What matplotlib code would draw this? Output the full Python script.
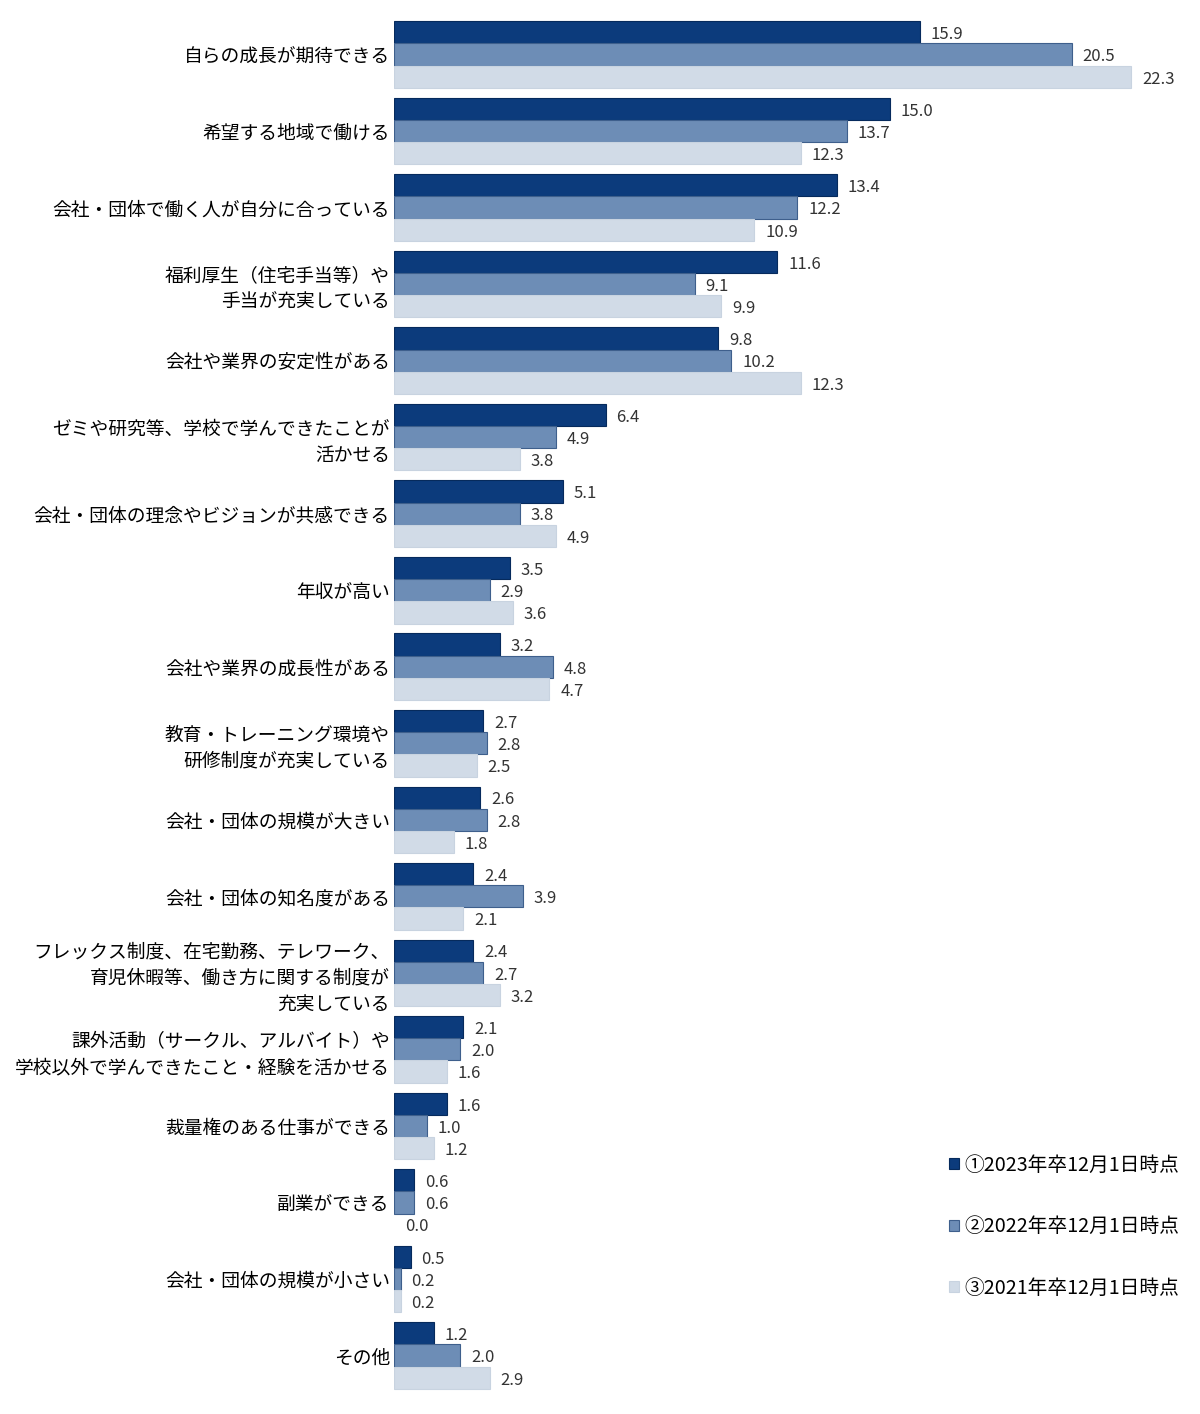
import matplotlib
matplotlib.use("Agg")
import matplotlib.pyplot as plt
import numpy as np
from matplotlib.patches import Patch

plt.rcParams["font.family"] = ["Noto Sans CJK JP", "DejaVu Sans"]

categories = [
    "自らの成長が期待できる",
    "希望する地域で働ける",
    "会社・団体で働く人が自分に合っている",
    "福利厚生（住宅手当等）や\n手当が充実している",
    "会社や業界の安定性がある",
    "ゼミや研究等、学校で学んできたことが\n活かせる",
    "会社・団体の理念やビジョンが共感できる",
    "年収が高い",
    "会社や業界の成長性がある",
    "教育・トレーニング環境や\n研修制度が充実している",
    "会社・団体の規模が大きい",
    "会社・団体の知名度がある",
    "フレックス制度、在宅勤務、テレワーク、\n育児休暇等、働き方に関する制度が\n充実している",
    "課外活動（サークル、アルバイト）や\n学校以外で学んできたこと・経験を活かせる",
    "裁量権のある仕事ができる",
    "副業ができる",
    "会社・団体の規模が小さい",
    "その他",
]
series_labels = ["①2023年卒12月1日時点", "②2022年卒12月1日時点", "③2021年卒12月1日時点"]
v2023 = [15.9, 15.0, 13.4, 11.6, 9.8, 6.4, 5.1, 3.5, 3.2, 2.7, 2.6, 2.4, 2.4, 2.1, 1.6, 0.6, 0.5, 1.2]
v2022 = [20.5, 13.7, 12.2, 9.1, 10.2, 4.9, 3.8, 2.9, 4.8, 2.8, 2.8, 3.9, 2.7, 2.0, 1.0, 0.6, 0.2, 2.0]
v2021 = [22.3, 12.3, 10.9, 9.9, 12.3, 3.8, 4.9, 3.6, 4.7, 2.5, 1.8, 2.1, 3.2, 1.6, 1.2, 0.0, 0.2, 2.9]

colors = ["#0c3b7c", "#6d8db6", "#d1dbe7"]
edges = ["#062a5c", "#3e5f8c", "#c8d3e0"]

fig = plt.figure(figsize=(12, 14.14), dpi=100)
ax = fig.add_axes([394 / 1200, 0.0143, 800 / 1200, 0.9742])

y = np.arange(len(categories))
h = 0.29
for k, vals in enumerate([v2023, v2022, v2021]):
    pos = y + (k - 1) * h
    lw = [0.8 if v > 0 else 0 for v in vals]
    ax.barh(pos, vals, height=h, color=colors[k], edgecolor=edges[k], linewidth=lw,
            label=series_labels[k])
    for p, v in zip(pos, vals):
        ax.text(v + 0.33, p + 0.03, f"{v:.1f}", va="center", ha="left",
                fontsize=12, color="#333333")

ax.set_xlim(0, 24.2)
ax.set_ylim(len(categories) - 0.5, -0.5)
ax.set_yticks(y)
ax.set_yticklabels(categories, fontsize=13.5, linespacing=1.32, ha="right")
ax.tick_params(axis="y", length=0, pad=3)
ax.set_xticks([])
for s in ax.spines.values():
    s.set_visible(False)

handles = [Patch(facecolor=colors[k], edgecolor=edges[k], linewidth=0.8) for k in range(3)]
fig.legend(handles, series_labels, loc="center right", bbox_to_anchor=(0.998, 0.1325),
           frameon=False, fontsize=14.2, handlelength=0.5, handleheight=0.5,
           handletextpad=0.3, labelspacing=2.05)

fig.savefig("out.png", dpi=100)
